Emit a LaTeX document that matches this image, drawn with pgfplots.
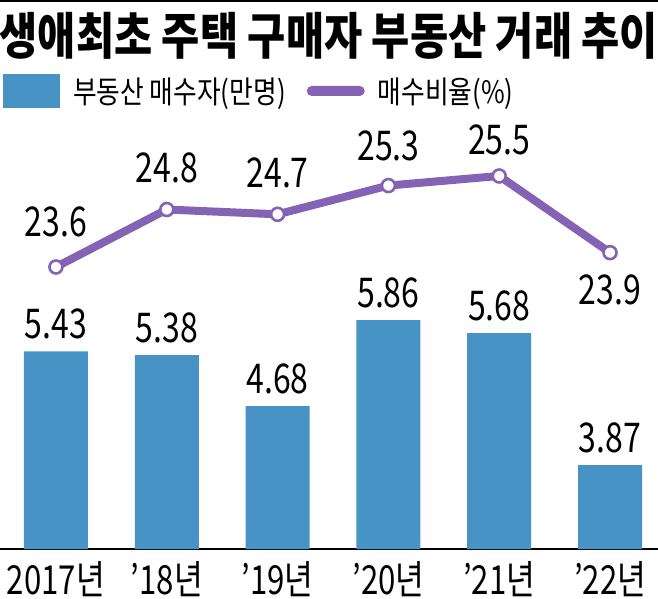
\documentclass[border=0pt]{standalone}
\usepackage{pgfplots}
\usepackage{pgfplotstable}
\pgfplotsset{compat=1.18}
\usepackage{fontspec}
\setmainfont{Noto Sans CJK KR}
\newfontfamily\titlefont[FakeStretch=0.83]{Noto Sans CJK KR}
\newfontfamily\numfont[FakeStretch=0.78]{Noto Sans CJK KR}
\newfontfamily\legfont[FakeStretch=0.83]{Noto Sans CJK KR}
\definecolor{barblue}{RGB}{72,147,197}
\definecolor{linepurple}{RGB}{132,98,180}

\pgfplotstableread{
x v
0 5.43
1 5.38
2 4.68
3 5.86
4 5.68
5 3.87
}\bardata
\pgfplotstableread{
x v
0 23.6
1 24.8
2 24.7
3 25.3
4 25.5
5 23.9
}\linedata

\pgfplotsset{linelab/.style n args={3}{draw=none, mark=none, forget plot,
  nodes near coords, point meta=explicit symbolic,
  restrict x to domain=#1:#1,
  every node near coord/.append style={font=\numfont\fontsize{41}{41}\selectfont, anchor=#2, inner sep=0pt, yshift=#3, text=black}}}

\begin{document}
\begin{tikzpicture}[x=1pt,y=1pt]
\useasboundingbox (0,-49) rectangle (658,549);
\draw[line width=2.5pt,black] (0,548) -- (658,548);
\node[anchor=center,inner sep=0] at (329,513) {\titlefont\bfseries\fontsize{50}{50}\selectfont 생애최초 주택 구매자 부동산 거래 추이};
\begin{axis}[
  at={(0,0)}, anchor=south west,
  scale only axis, width=658pt, height=419pt,
  xmin=-0.505, xmax=5.433,
  ymin=2.72, ymax=8.468,
  axis x line=bottom, axis y line=none,
  x axis line style={-, black, line width=1.5pt},
  xtick=data,
  xticklabels={2017년,’18년,’19년,’20년,’21년,’22년},
  major tick length=0pt,
  xticklabel style={font=\numfont\fontsize{40}{40}\selectfont, anchor=north, inner sep=0pt, yshift=-12pt},
  clip=false,
  legend style={at={(0.00456,1.0931)}, anchor=west, draw=none, fill=none, legend columns=2, inner sep=0pt,
    nodes={inner sep=0pt},
    font=\legfont\fontsize{31}{31}\selectfont,
    /tikz/every even column/.append style={column sep=21pt},
    /tikz/every odd column/.append style={column sep=13pt}},
  legend cell align=left,
]
\addplot[ybar, bar width=64pt, fill=barblue, draw=none,
  nodes near coords, point meta=explicit symbolic,
  every node near coord/.append style={font=\numfont\fontsize{41}{41}\selectfont, anchor=south, inner sep=0pt, yshift=12pt, text=black},
  legend image code/.code={\fill[barblue] (0pt,-17pt) rectangle (57pt,17pt);}
] table[x=x, y=v, meta=v] {\bardata};
\addlegendentry{부동산 매수자(만명)}
\addlegendimage{draw=none, legend image code/.code={\fill[linepurple, rounded corners=5pt] (0pt,-5pt) rectangle (58pt,5pt);}}
\addlegendentry{매수비율(\%)}
\end{axis}
\begin{axis}[
  at={(0,0)}, anchor=south west,
  scale only axis, width=658pt, height=419pt,
  xmin=-0.505, xmax=5.433,
  ymin=17.713, ymax=26.46,
  hide axis, clip=false,
]
\addplot[linepurple, line width=8pt, mark=*, mark size=6.5pt,
  mark options={fill=white, draw=linepurple, line width=2.6pt}
] table[x=x, y=v] {\linedata};
\addplot[linelab={0}{south}{30pt}] table[x=x, y=v, meta=v] {\linedata};
\addplot[linelab={1}{south}{26pt}] table[x=x, y=v, meta=v] {\linedata};
\addplot[linelab={2}{south}{26pt}] table[x=x, y=v, meta=v] {\linedata};
\addplot[linelab={3}{south}{24pt}] table[x=x, y=v, meta=v] {\linedata};
\addplot[linelab={4}{south}{21pt}] table[x=x, y=v, meta=v] {\linedata};
\addplot[linelab={5}{north}{-22pt}] table[x=x, y=v, meta=v] {\linedata};
\end{axis}
\end{tikzpicture}
\end{document}
